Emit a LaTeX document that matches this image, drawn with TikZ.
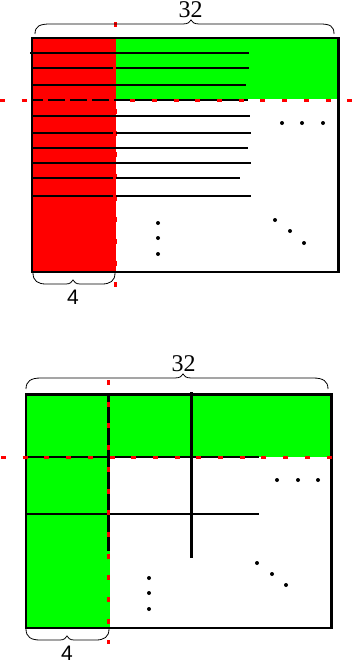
\documentclass[tikz,border=0pt]{standalone}
\usepackage{fontspec}
\newfontfamily\serifnum{Liberation Serif}
\newfontfamily\sansnum{Liberation Sans}
\definecolor{pred}{RGB}{255,0,0}
\definecolor{pgreen}{RGB}{0,255,0}
\begin{document}
\begin{tikzpicture}[x=1pt,y=-1pt,
  frame/.style={draw=black,line width=2.6pt},
  hline/.style={draw=black,line width=2pt},
  vline/.style={draw=black,line width=2.8pt},
  reddash/.style={draw=pred,line width=3pt,dash pattern=on 5pt off 16.7pt},
  bracepath/.style={draw=black,line width=0.8pt},
  dotmark/.style={fill=black},
  biglabel/.style={font=\serifnum\fontsize{24}{24}\selectfont,inner sep=0pt},
  smalllabel/.style={font=\sansnum\fontsize{21}{21}\selectfont,inner sep=0pt}]
\useasboundingbox (0,0) rectangle (360,664);

% ================= top diagram =================
\coordinate (tC) at (115,22);
\coordinate (tD) at (115,288);
\draw[reddash] (tC) -- (tD);

\fill[pred] (32,38) rectangle (116,272);
\fill[pgreen] (116,38) rectangle (338.5,98.5);

\draw[hline] (30,53) -- (249,53);
\draw[hline] (33,68) -- (113,68);
\draw[hline] (116,68) -- (249,68);
\draw[hline] (33,85) -- (246,85);
\draw[hline] (33,100) -- (248,100);
\draw[hline] (33,116) -- (250,116);
\draw[hline] (33,133) -- (113,133);
\draw[hline] (116,133) -- (251,133);
\draw[hline] (33,148) -- (248,148);
\draw[hline] (33,163) -- (251,163);
\draw[hline] (33,178) -- (113,178);
\draw[hline] (116,178) -- (240,178);
\draw[hline] (33,196) -- (113,196);
\draw[hline] (116,196) -- (251,196);

\draw[frame] (32,38) rectangle (338.5,272);

\coordinate (tA) at (0,100);
\coordinate (tB) at (352,100);
\draw[reddash] (tA) -- (tB);

% dots
\foreach \x in {282,302,323} \fill[dotmark] (\x,123) circle (2);
\foreach \y in {223,238,254} \fill[dotmark] (158,\y) circle (2);
\fill[dotmark] (275,220) circle (2);
\fill[dotmark] (290,231) circle (2);
\fill[dotmark] (304,243) circle (2);

% top brace
\draw[bracepath] (35,34) .. controls (35,26) and (40,24) .. (50,24)
  -- (183,24) .. controls (188,24) and (190,22) .. (191,20)
  .. controls (192,22) and (194,24) .. (199,24)
  -- (320,24) .. controls (330,24) and (334,26) .. (334,34);
\node[biglabel] (lab32a) at (190.5,10) {32};

% bottom brace
\draw[bracepath] (33,273) .. controls (33,281) and (38,284) .. (46,284)
  -- (66,284) .. controls (70,284) and (72,282) .. (73,280)
  .. controls (74,282) and (76,284) .. (80,284)
  -- (102,284) .. controls (110,284) and (115,281) .. (115,273);
\node[smalllabel] (lab4a) at (73,297) {4};

% ================= bottom diagram =================
\fill[pgreen] (26,394.7) rectangle (331.5,457);
\fill[pgreen] (26,394.7) rectangle (109.5,628);

\draw[hline] (26,457) -- (259,457);
\draw[hline] (26,513.5) -- (259,513.5);
\draw[vline] (108.3,394.7) -- (108.3,551);
\draw[vline] (191.2,392) -- (191.2,558);

\draw[frame] (26,394.7) rectangle (331.5,628);

\coordinate (bA) at (1,457);
\coordinate (bB) at (346,457);
\draw[reddash] (bA) -- (bB);
\coordinate (bC) at (108.3,380);
\coordinate (bD) at (108.3,644);
\draw[reddash] (bC) -- (bD);

\foreach \x in {277,298,318} \fill[dotmark] (\x,480) circle (2);
\foreach \y in {578,593,609} \fill[dotmark] (149,\y) circle (2);
\fill[dotmark] (257,563) circle (2);
\fill[dotmark] (272,574) circle (2);
\fill[dotmark] (286,585) circle (2);

% top brace bottom diagram
\draw[bracepath] (26,389) .. controls (26,381) and (31,378) .. (41,378)
  -- (175,378) .. controls (180,378) and (182,376) .. (183,374)
  .. controls (184,376) and (186,378) .. (191,378)
  -- (313,378) .. controls (323,378) and (328,381) .. (328,389);
\node[biglabel] (lab32b) at (183.5,364) {32};

% bottom brace bottom diagram
\draw[bracepath] (26,629) .. controls (26,637) and (31,640) .. (40,640)
  -- (60,640) .. controls (64,640) and (66,638) .. (67,636)
  .. controls (68,638) and (70,640) .. (74,640)
  -- (96,640) .. controls (104,640) and (109,637) .. (109,629);
\node[smalllabel] (lab4b) at (67,653) {4};
\end{tikzpicture}
\end{document}
